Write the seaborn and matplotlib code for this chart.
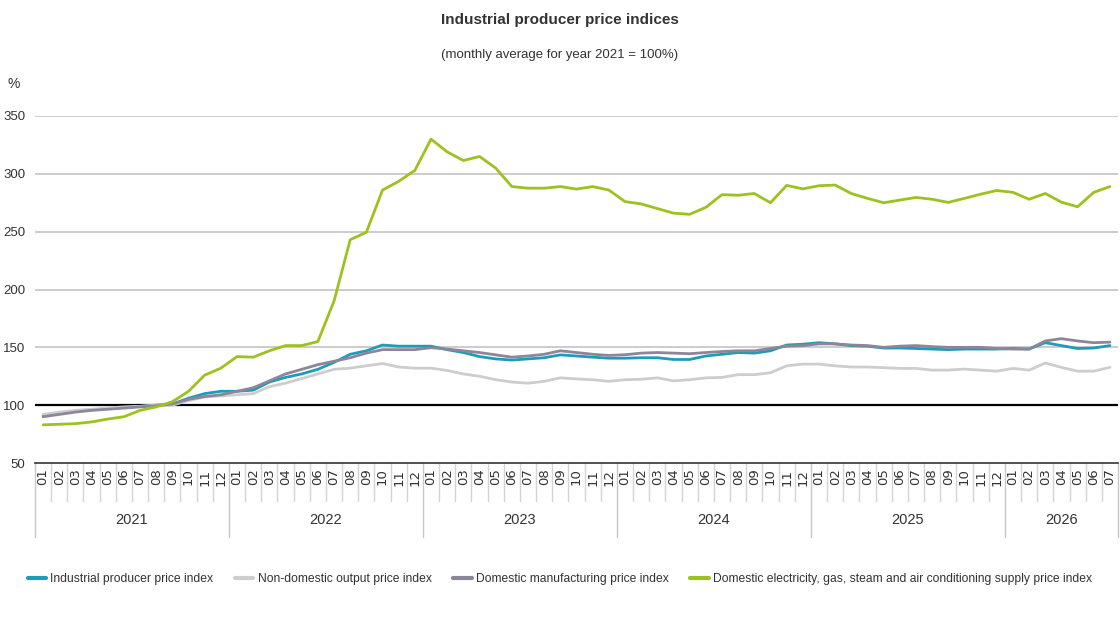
import numpy as np
import pandas as pd
import matplotlib
matplotlib.use('Agg')
import matplotlib.pyplot as plt
import matplotlib.transforms as mtransforms
import seaborn as sns

years = ['2021', '2022', '2023', '2024', '2025', '2026']
months = [f'{m:02d}' for m in range(1, 13)] * 5 + [f'{m:02d}' for m in range(1, 8)]

industrial = [91, 93, 95, 96, 97, 98, 99, 100, 101, 106, 110, 112,
              112, 113, 120, 124, 127, 131, 137, 144, 147, 152, 151, 151,
              151, 148, 145.5, 142, 140, 139, 140, 141, 143.5, 142.5, 141.5, 140.6,
              140.6, 141, 141, 139.5, 139.5, 142.5, 144, 145.5, 145, 147,
              152, 152.7, 154, 153, 151.5, 151, 149.4, 149.4, 149, 148.5, 148, 148.5,
              148.5, 148.5, 149, 148.5, 154, 151.5, 149, 149.4, 151.5]
non_domestic = [92, 94, 95.5, 96.5, 97.5, 98.5, 99, 100, 100, 104, 107, 108,
                109, 110, 116, 119, 123, 127, 131, 132, 134, 136, 133, 132,
                132, 130, 127, 125, 122, 120, 119, 120.6, 123.6, 122.7, 122, 120.6,
                122, 122.4, 123.6, 121, 122, 123.6, 124, 126.4, 126.4, 128,
                134, 135.5, 135.5, 134, 133, 133, 132.4, 131.8, 131.8, 130.3, 130.3, 131.2,
                130.3, 129.4, 131.8, 130.3, 136.4, 132.7, 129.4, 129.4, 132.7]
manufacturing = [90, 92, 94, 95.5, 96.5, 97.5, 98.5, 99.5, 101, 105, 107.5, 109,
                 112, 115, 121, 127, 131, 135, 138, 141, 145, 148, 148, 148,
                 149.7, 148.5, 147, 145.5, 143.5, 141.5, 142.5, 144, 147, 145.5, 144, 143,
                 143.6, 145, 145.5, 145, 144.5, 145.5, 146.4, 147, 147, 149,
                 151, 151.5, 153, 153, 152, 151.5, 150, 151, 151.5, 150.6, 150, 150,
                 150, 149, 148.5, 148.5, 155.5, 157.5, 155.5, 154, 154.5]
electricity = [83, 83.5, 84, 85.5, 88, 90, 95.5, 98.5, 103, 112, 126, 132,
               142, 141.5, 147, 151.5, 151.5, 155, 190, 243, 249.5, 286, 293.5, 303,
               330, 319, 311.5, 315, 305, 289, 287.6, 287.6, 289, 286.8, 289, 286,
               276, 274, 270, 266, 265, 271, 282, 281.5, 283, 275,
               290, 287, 289.7, 290.3, 283, 278.8, 275, 277.3, 279.6, 278, 275.3, 278.8,
               282.4, 285.6, 284, 278, 283, 275.5, 271.5, 284, 289]

series_names = ['Industrial producer price index',
                'Non-domestic output price index',
                'Domestic manufacturing price index',
                'Domestic electricity, gas, steam and air conditioning supply price index']
colors = ['#1C9CB7', '#CDCDCD', '#8E859A', '#9DC21E']

n = len(months)
frames = []
for name, vals in zip(series_names, [industrial, non_domestic, manufacturing, electricity]):
    frames.append(pd.DataFrame({'idx': np.arange(n), 'value': vals, 'series': name}))
df = pd.concat(frames, ignore_index=True)

sns.set_theme(style='white')
plt.rcParams['font.family'] = ['Liberation Sans', 'DejaVu Sans']

fig = plt.figure(figsize=(11.2, 6.3), dpi=100)
ax = fig.add_axes([35 / 1120, 1 - 463 / 630, 1083 / 1120, 347 / 630])

for y in [150, 200, 250, 300, 350]:
    ax.axhline(y, color='#C4C4C4', lw=1.2, zorder=0)
ax.axhline(100, color='black', lw=1.6, zorder=1)

sns.lineplot(data=df, x='idx', y='value', hue='series', hue_order=series_names,
             palette=dict(zip(series_names, colors)), linewidth=2.0, ax=ax, legend=False)

ax.set_xlim(-0.5, n - 0.5)
ax.set_ylim(50, 350)
ax.set_yticks([50, 100, 150, 200, 250, 300, 350])
ax.tick_params(axis='y', labelsize=9.5, colors='#333333', length=0, pad=7)
ax.set_xlabel('')
ax.set_ylabel('')
for side in ['top', 'right', 'left']:
    ax.spines[side].set_visible(False)
ax.spines['bottom'].set_color('#333333')
ax.spines['bottom'].set_linewidth(1.2)

# month labels
ax.set_xticks(np.arange(n))
ax.set_xticklabels(months, rotation=90, fontsize=9.5, color='#333333', family=['DejaVu Sans'])
ax.tick_params(axis='x', length=0, pad=4)

# cell separators and year labels
trans = mtransforms.blended_transform_factory(ax.transData, ax.transAxes)
px = 1 / 347
for i in range(n + 1):
    x = i - 0.5
    if i % 12 == 0 or i == n:
        ax.plot([x, x], [0, -74 * px], transform=trans, color='#C8C8C8', lw=1, clip_on=False)
    else:
        ax.plot([x, x], [0, -38 * px], transform=trans, color='#D4D4D4', lw=1, clip_on=False)
for k, yr in enumerate(years):
    start = k * 12
    end = min(start + 12, n)
    ax.text((start + end - 1) / 2, -57 * px, yr, transform=trans, ha='center', va='center',
            fontsize=10.5, color='#333333')

fig.text(0.5, 1 - 20 / 630, 'Industrial producer price indices', ha='center', va='center',
         fontsize=11, fontweight='bold', color='#333333')
fig.text(0.5, 1 - 55 / 630, '(monthly average for year 2021 = 100%)', ha='center', va='center',
         fontsize=9.5, color='#333333')
fig.text(8 / 1120, 1 - 84 / 630, '%', ha='left', va='center', fontsize=10, color='#333333')

handles = [plt.Line2D([], [], color=c, lw=3) for c in colors]
fig.legend(handles, series_names, loc='center', bbox_to_anchor=(0.5, 1 - 579 / 630),
           ncol=4, frameon=False, fontsize=8.7, handlelength=1.5, handletextpad=0.35,
           columnspacing=1.8, labelcolor='#333333')

fig.savefig('out.png', dpi=100)
